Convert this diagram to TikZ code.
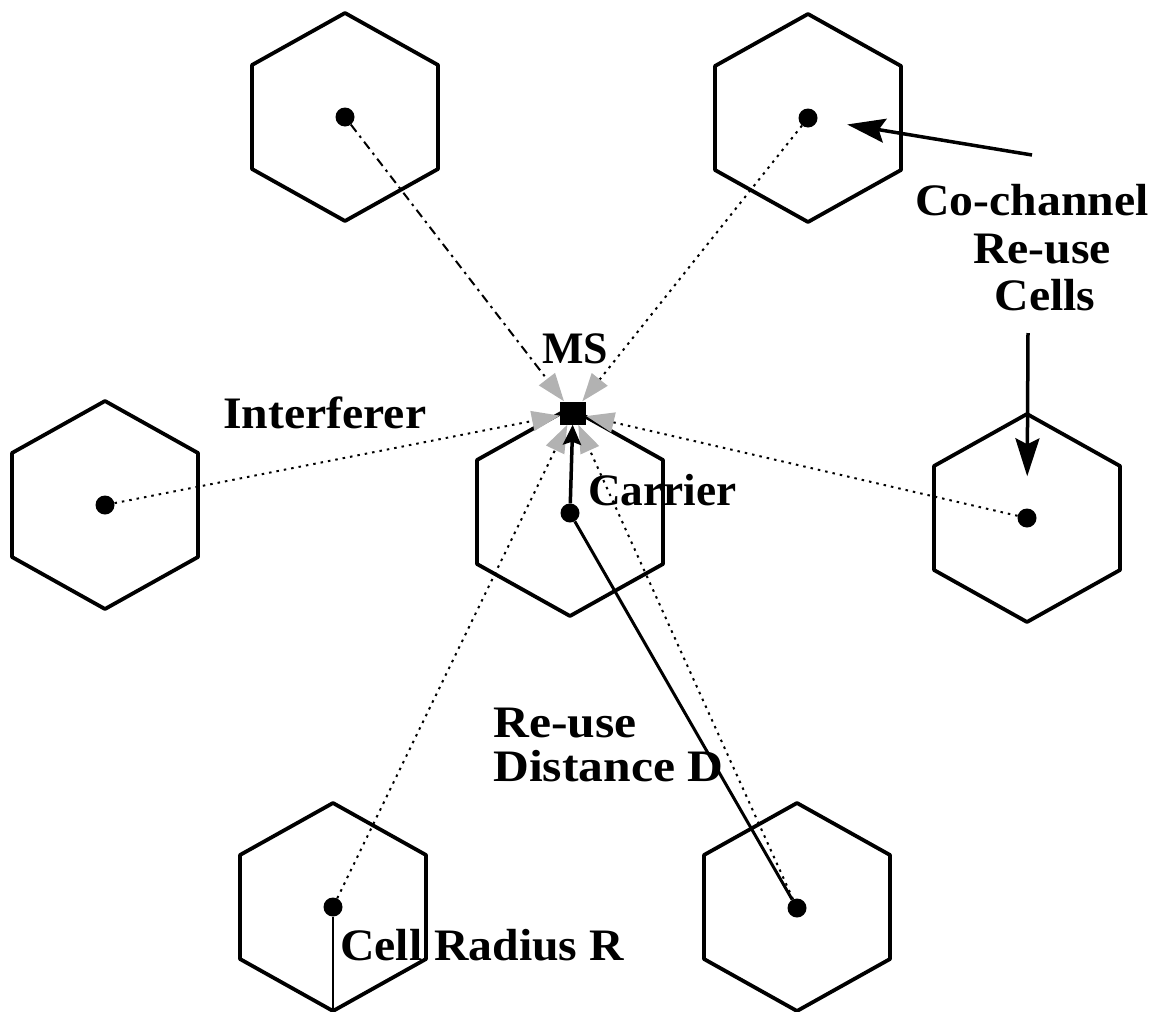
\documentclass[tikz,border=0pt]{standalone}
\usepackage{fontspec}
\setmainfont{Liberation Serif}
\usetikzlibrary{arrows.meta}
\tikzset{
  cellhex/.style={line width=3.8pt, line join=round},
  hexcell/.pic={\draw[cellhex] (0,-104) -- (93,-52) -- (93,52) -- (0,104) -- (-93,52) -- (-93,-52) -- cycle;},
  bs/.style={circle, fill=black, inner sep=0pt, minimum size=19pt},
  lbl/.style={font=\fontsize{45}{48}\selectfont\bfseries, inner sep=0pt, xscale=1.06},
  interf/.style={line width=2pt, dash pattern=on 2.5pt off 5pt,
    -{Triangle[length=28pt,width=20pt,color=gray!60]}},
  interfdash/.style={interf, dash pattern=on 9pt off 5pt on 2.5pt off 5pt},
  solidarrow/.style={line width=3.5pt, -{Stealth[length=38pt,width=24pt,inset=6pt]}},
}
\begin{document}
\begin{tikzpicture}[x=1pt,y=-1pt]
\useasboundingbox (0,0) rectangle (1157,1012);

% cells
\pic at (345,117) {hexcell};
\pic at (808,118) {hexcell};
\pic at (105,505) {hexcell};
\pic at (570,512) {hexcell};
\pic at (1027,518) {hexcell};
\pic at (333,907) {hexcell};
\pic at (797,907) {hexcell};

% base stations
\node[bs] (tl) at (345,117) {};
\node[bs] (tr) at (808,118) {};
\node[bs] (l) at (105,505) {};
\node[bs] (r) at (1027,518) {};
\node[bs] (bl) at (333,907) {};
\node[bs] (br) at (797,908) {};
\node[bs] (c) at (570,513) {};

% mobile station
\node[fill=black, minimum width=26pt, minimum height=23pt, inner sep=0pt] (ms) at (573,413) {};

% interference paths
\draw[interfdash] (tl) -- (ms);
\draw[interf] (tr) -- (ms);
\draw[interf] (l) -- (ms);
\draw[interf] (r) -- (ms);
\draw[interf] (bl) -- (ms);
\draw[interf] (br) -- (ms);

% carrier
\draw[line width=3.5pt, -{Stealth[length=20pt,width=18pt,inset=3pt]}] (c) -- (ms);

% re-use distance
\draw[line width=3pt] (c) -- (br);

% cell radius
\coordinate (blv) at (333,1011);
\draw[line width=2.5pt] (bl) -- (blv);

% co-channel pointers
\coordinate (a1) at (1032,155);
\draw[solidarrow, shorten >=30pt] (a1) -- (tr);
\coordinate (a2) at (1028,333);
\draw[solidarrow, shorten >=32pt] (a2) -- (r);

% labels
\node[lbl, xscale=0.92, anchor=base] (msl) at (575,363) {MS};
\node[lbl, anchor=base west] (intl) at (223,428) {Interferer};
\node[lbl, xscale=0.95, anchor=base west] (carl) at (588,505) {Carrier};
\node[lbl, xscale=1.04, anchor=north west, align=left, font=\fontsize{45}{44}\selectfont\bfseries] (rdl) at (493,707.5) {Re-use\\Distance D};
\node[lbl, anchor=base] (cc1) at (1032,215) {Co-channel};
\node[lbl, anchor=base] (cc2) at (1042,263) {Re-use};
\node[lbl, anchor=base] (cc3) at (1045,310) {Cells};
\node[lbl, anchor=base west] (crl) at (340,960) {Cell Radius R};
\end{tikzpicture}
\end{document}
